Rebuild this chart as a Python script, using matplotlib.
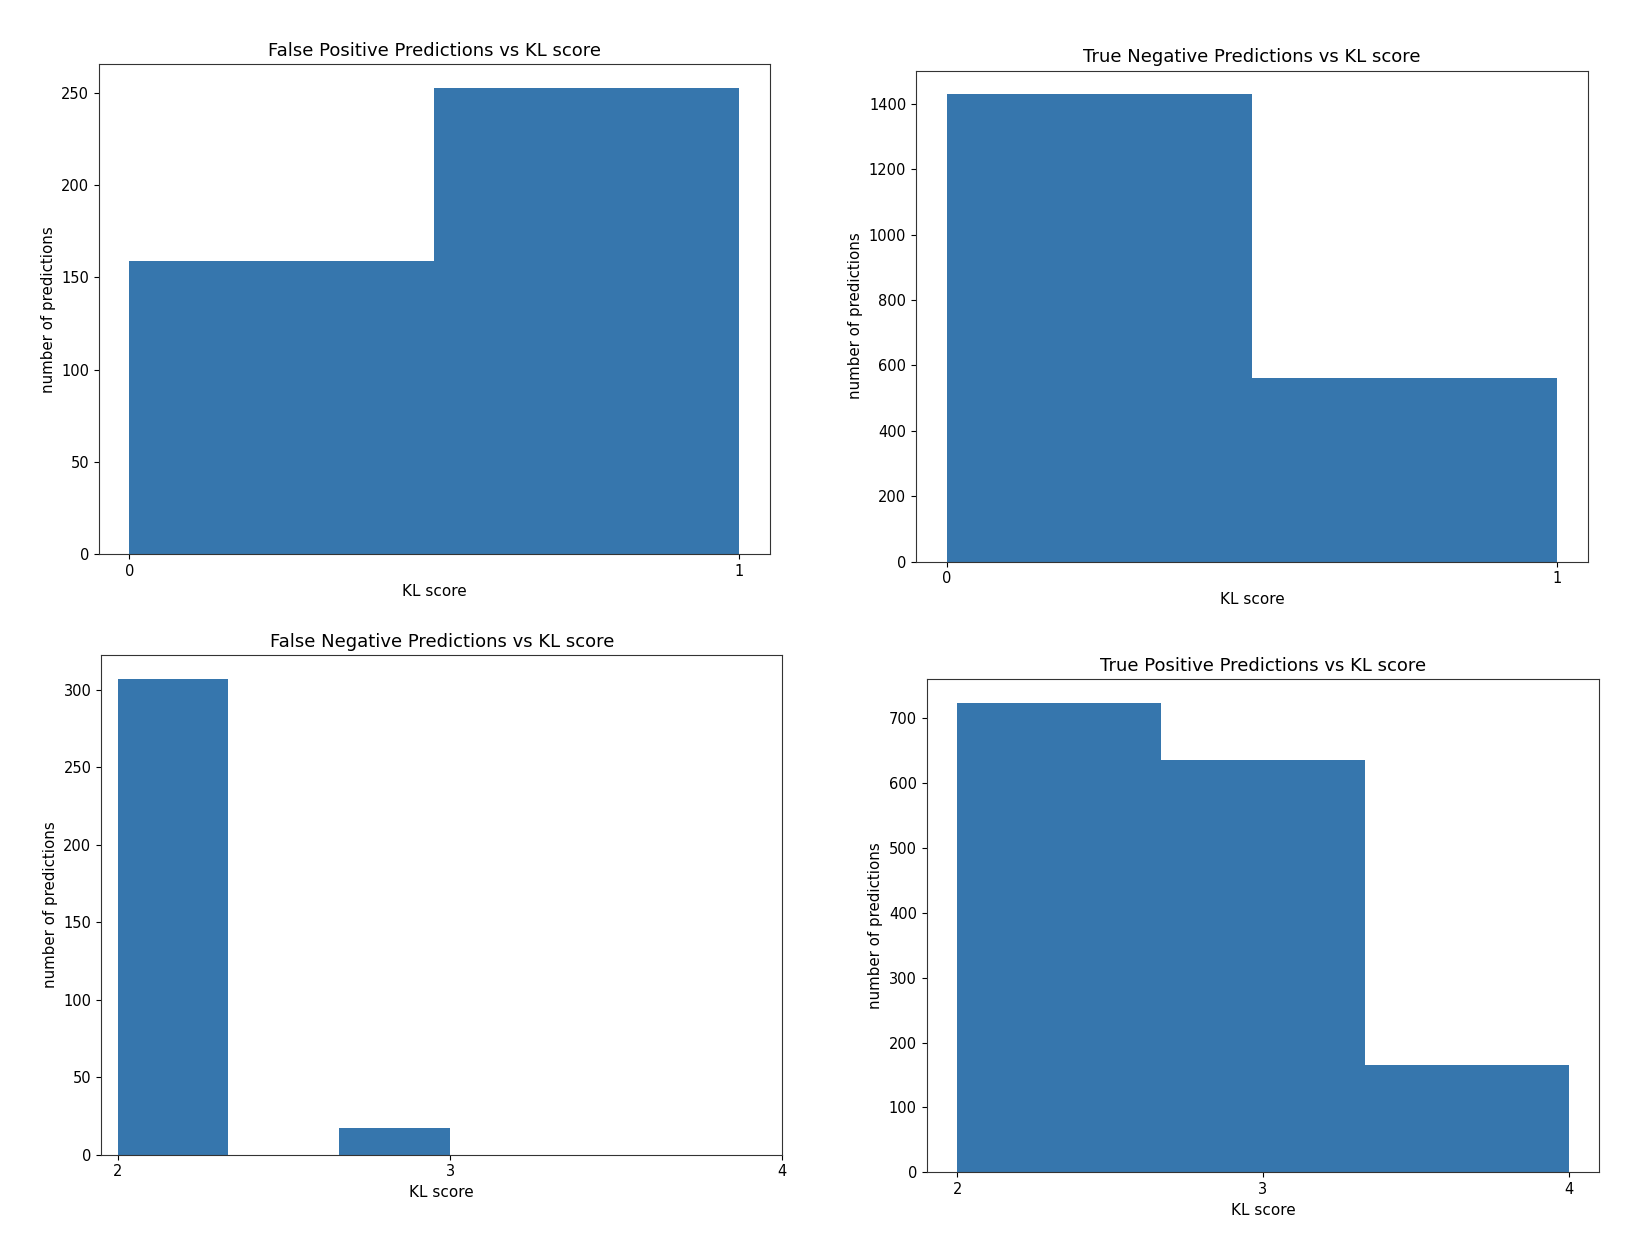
import numpy as np
import matplotlib
matplotlib.use("Agg")
import matplotlib.pyplot as plt

bar_color = "#3676ad"

# false positives: KL scores 0..1, 2 bins
fp_edges = [0, 0.5, 1]
fp_counts = [159, 253]

# true negatives: KL scores 0..1, 2 bins
tn_edges = [0, 0.5, 1]
tn_counts = [1430, 560]

# false negatives: KL scores 2..3, 3 bins
fn_edges = [2, 2 + 1/3, 2 + 2/3, 3]
fn_counts = [307, 0, 17]

# true positives: KL scores 2..4, 3 bins
tp_edges = [2, 2 + 2/3, 2 + 4/3, 4]
tp_counts = [723, 635, 165]

panels = [
    ("False Positive Predictions vs KL score", fp_edges, fp_counts, [0, 1], [0.0599, 0.5539, 0.406, 0.3944]),
    ("True Negative Predictions vs KL score", tn_edges, tn_counts, [0, 1], [0.5545, 0.5479, 0.4066, 0.3953]),
    ("False Negative Predictions vs KL score", fn_edges, fn_counts, [2, 3, 4], [0.0612, 0.0704, 0.4124, 0.402]),
    ("True Positive Predictions vs KL score", tp_edges, tp_counts, [2, 3, 4], [0.5609, 0.056, 0.4072, 0.397]),
]

fig = plt.figure(figsize=(16.52, 12.42), dpi=100)

for title, edges, counts, ticks, rect in panels:
    ax = fig.add_axes(rect)
    ax.hist(edges[:-1], bins=edges, weights=counts, color=bar_color)
    ax.set_xticks(ticks)
    ax.set_title(title, fontsize=13)
    ax.set_xlabel("KL score", fontsize=11)
    ax.set_ylabel("number of predictions", fontsize=10.8)
    ax.tick_params(labelsize=10.5)
    for s in ax.spines.values():
        s.set_color("#333333")

fig.savefig("out.png", dpi=100)
